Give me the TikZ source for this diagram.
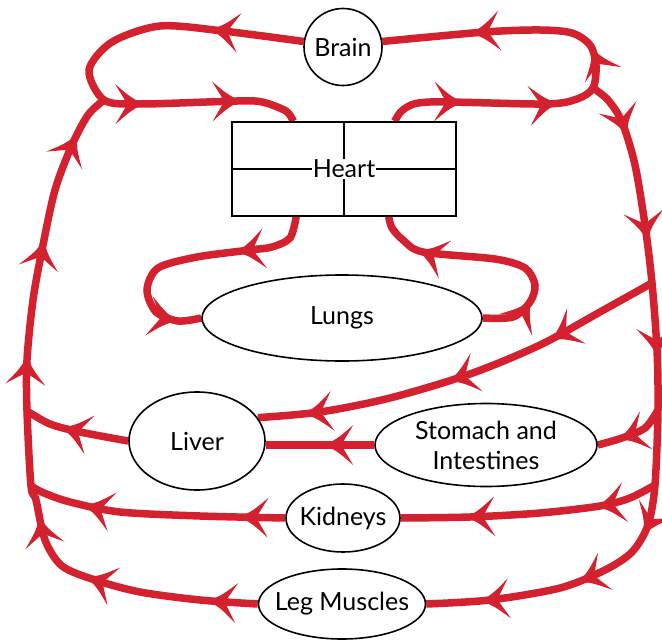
\documentclass[tikz,border=0pt]{standalone}
\usepackage{fontspec}
\setmainfont{Lato}
\usepackage{xcolor}
\usetikzlibrary{shapes.geometric,decorations.markings,backgrounds}
\definecolor{blood}{RGB}{212,33,47}

\begin{document}
\begin{tikzpicture}[
  x=1pt, y=-1pt,
  font=\fontsize{25}{30}\selectfont,
  every node/.append style={align=center},
  organ/.style={ellipse, draw, fill=white, line width=1.6pt, inner xsep=-16pt, inner ysep=0pt},
  vessel/.style={draw=blood, line width=7.5pt},
  flow/.style={postaction={decorate, decoration={markings,
    mark=at position #1 with {\fill[blood] (0,0) .. controls (-13,7) .. (-28,20) -- (-16,0) -- (-28,-20) .. controls (-13,-7) .. (0,0) -- cycle;}}}}
]
\useasboundingbox (0,0) rectangle (662,642);
\node[organ, minimum width=78pt, minimum height=77pt]   (brain)   at (343,47)  {Brain};
\node[draw, fill=white, line width=1.6pt, minimum width=224pt, minimum height=94pt, inner sep=0pt] (heart) at (344,169) {};
\draw[line width=1.6pt] (heart.north) -- (heart.south) (heart.west) -- (heart.east);
\node[fill=white, inner sep=1pt] (heartlbl) at (heart.center) {Heart};
\node[organ, minimum width=280pt, minimum height=86pt]  (lungs)   at (342,318) {Lungs};
\node[organ, minimum width=136pt, minimum height=98pt]  (liver)   at (197,441) {Liver};
\node[organ, minimum width=222pt, minimum height=83pt]  (stomach) at (486,445) {Stomach and\\Intestines};
\node[organ, minimum width=114pt, minimum height=68pt]  (kidneys) at (343,518) {Kidneys};
\node[organ, minimum width=167pt, minimum height=70pt]  (legs)    at (342,604) {Leg Muscles};

% junctions on the trunks
\coordinate (jl)    at (104,100);
\coordinate (jr)    at (593,88);
\coordinate (jliv)  at (27,411);
\coordinate (jkid)  at (31,486);
\coordinate (jart)  at (652,283);
\coordinate (jsto)  at (658,410);
\coordinate (jkid2) at (655,485);

\begin{scope}[on background layer]
% brain loops
\draw[vessel, flow=93pt, flow=307pt, flow=404pt] plot[smooth] coordinates {(brain.172) (223,31) (160,26) (112,42) (89,70) (jl) (140,104) (237,101) (262,102) (286,111) ([xshift=62pt]heart.north west)};
\draw[vessel, flow=75pt, flow=170pt, flow=250pt, flow=377pt] plot[smooth] coordinates {([xshift=-62pt]heart.north east) (404,109) (430,102) (545,104) (577,99) (jr) (596,65) (590,45) (572,33) (540,30) (485,32) (brain.8)};
% lungs
\draw[vessel, flow=78pt, flow=231pt] plot[smooth] coordinates {([xshift=65pt]heart.south west) (290,238) (272,247) (250,250) (197,257) (158,268) (147,290) (156,312) (178,321) (lungs.west)};
\draw[vessel, flow=54pt, flow=200pt] plot[smooth] coordinates {(lungs.east) (513,317) (530,302) (535,285) (525,268) (495,259) (423,252) (403,240) (392,228) ([xshift=-68pt]heart.south east)};
% left trunk
\draw[vessel, flow=49pt, flow=173pt, flow=255pt, flow=418pt, flow=535pt, flow=646pt] plot[smooth] coordinates {(legs.west) (200,600) (140,592) (95,580) (62,566) (45,540) (36,500) (jkid) (jliv) (27,360) (33,300) (42,250) (55,190) (72,145) (88,115) (jl)};
\draw[vessel, flow=67pt] plot[smooth] coordinates {(liver.west) (80,432) (50,424) (jliv)};
\draw[vessel, flow=45pt, flow=201pt] plot[smooth] coordinates {(kidneys.west) (200,516) (120,512) (70,502) (44,493) (jkid)};
% right trunk
\draw[vessel, flow=58pt, flow=166pt, flow=283pt, flow=462pt, flow=545pt, flow=645pt] plot[smooth] coordinates {(jr) (608,100) (622,122) (635,165) (645,225) (jart) (657,350) (jsto) (jkid2) (648,525) (632,552) (605,570) (560,588) (490,600) (legs.east)};
\draw[vessel, flow=115pt, flow=225pt, flow=374pt] plot[smooth] coordinates {(jart) (600,312) (540,345) (470,374) (390,398) (320,412) (liver.21)};
\draw[vessel, flow=50pt] plot[smooth] coordinates {(jsto) (645,428) (622,438) (stomach.east)};
\draw[vessel, flow=49pt] (stomach.west) -- (stomach.west -| liver.east);
\draw[vessel, flow=62pt, flow=193pt] plot[smooth] coordinates {(jkid2) (630,498) (600,506) (540,513) (470,517) (kidneys.east)};
\end{scope}
\end{tikzpicture}
\end{document}
